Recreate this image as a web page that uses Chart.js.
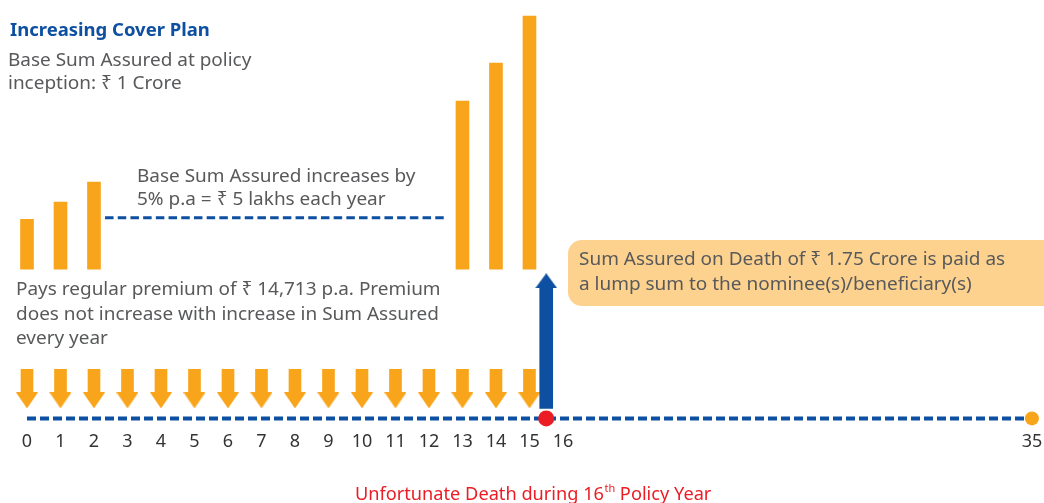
<!DOCTYPE html>
<html>
<head>
<meta charset="utf-8">
<script src="https://cdn.jsdelivr.net/npm/chart.js@4.4.1/dist/chart.umd.min.js"></script>
<style>
  html,body{margin:0;padding:0;background:#fff}
  #wrap{width:1044px;height:503px;position:relative}
</style>
</head>
<body>
<div id="wrap"><canvas id="c" width="1044" height="503"></canvas></div>
<script>
/* ====================== DATA ====================== */
const axisYears    = [0,1,2,3,4,5,6,7,8,9,10,11,12,13,14,15,16];
const lastYear     = 35;          // end of policy term, shown after an axis break
const lastYearAt   = 30;          // where the break puts it on the axis
const barYears     = [0,1,2,13,14,15];
const barHeights   = [50,67,87,168,206,253];   // illustrative sum assured bars
const premiumYears = [0,1,2,3,4,5,6,7,8,9,10,11,12,13,14,15];
const deathAt      = 15.5;        // during the 16th policy year

/* ====================== STYLE ===================== */
const FONT   = "'Noto Sans','DejaVu Sans',sans-serif";
const ORANGE = '#f8a51c';
const BLUE   = '#0d4fa0';
const RED    = '#ec1c24';
const GRAY   = '#58595b';
const BOX    = '#fdd28e';
const Y_TOP  = 418;               // y units ~ px above the time line
const BAR_BASE = 149;
const ARROW = {shaftTop:49, headBase:26, tip:10};
const CLAIM = {bottom:10, headBase:130, tip:145};

function head(w,h,color,up){
  const c=document.createElement('canvas'); c.width=w; c.height=h;
  const g=c.getContext('2d'); g.fillStyle=color; g.beginPath();
  if(up){ g.moveTo(w/2,0); g.lineTo(w,h); g.lineTo(0,h); }
  else  { g.moveTo(0,0); g.lineTo(w,0); g.lineTo(w/2,h); }
  g.closePath(); g.fill(); return c;
}
const downHead = head(22,16,ORANGE,false);
const upHead   = head(22,15,BLUE,true);

/* ==================== DATASETS ==================== */
const dsDots = {
  type:'line', order:0, showLine:false, clip:false,
  data:[{x:deathAt,y:0},{x:lastYearAt,y:0}],
  pointRadius:[8,7], pointBackgroundColor:[RED,ORANGE], pointBorderWidth:0, pointHoverRadius:[8,7]
};
const dsClaimShaft = {
  type:'bar', order:1, grouped:false, barThickness:13, backgroundColor:BLUE,
  data:[{x:deathAt,y:[CLAIM.bottom,CLAIM.headBase]}]
};
const dsClaimHead = {
  type:'line', order:1, showLine:false, clip:false,
  data:[{x:deathAt,y:(CLAIM.headBase+CLAIM.tip)/2}],
  pointStyle:upHead, pointRadius:8
};
const dsPremShaft = {
  type:'bar', order:2, grouped:false, barThickness:12, backgroundColor:ORANGE,
  data:premiumYears.map(y=>({x:y,y:[ARROW.headBase,ARROW.shaftTop]}))
};
const dsPremHead = {
  type:'line', order:2, showLine:false, clip:false,
  data:premiumYears.map(y=>({x:y,y:(ARROW.headBase+ARROW.tip)/2})),
  pointStyle:downHead, pointRadius:8
};
const dsBars = {
  type:'bar', order:3, grouped:false, barThickness:13, backgroundColor:ORANGE, borderSkipped:false,
  data:barYears.map((y,i)=>({x:y,y:[BAR_BASE,BAR_BASE+barHeights[i]]}))
};
const dsTimeline = {
  type:'line', order:4, clip:false, borderColor:BLUE, borderWidth:4, borderDash:[9,4],
  borderCapStyle:'butt', pointRadius:0,
  data:[{x:axisYears[0],y:0},{x:lastYearAt,y:0}]
};
const upperLevel = BAR_BASE + barHeights[0] + 1.5;
const dsIncrease = {
  type:'line', order:4, clip:false, borderColor:BLUE, borderWidth:3, borderDash:[8.5,4.2],
  borderCapStyle:'butt', pointRadius:0,
  data:[{x:barYears[2]+0.33,y:upperLevel},{x:barYears[3]-0.52,y:upperLevel}]
};

/* ===================== TEXT ======================= */
function fit(ctx,text,weight,w){
  ctx.font=`${weight} 100px ${FONT}`;
  return 100*w/ctx.measureText(text).width;
}
const notes = {
  id:'notes',
  afterDraw(chart){
    const ctx=chart.ctx; ctx.save();
    ctx.textBaseline='alphabetic'; ctx.textAlign='left';

    // callout box
    ctx.fillStyle=BOX; ctx.beginPath(); ctx.roundRect(568,240,520,66,14); ctx.fill();

    const ts=fit(ctx,'Increasing Cover Plan','700',200);
    ctx.font=`700 ${ts}px ${FONT}`; ctx.fillStyle=BLUE;
    ctx.fillText('Increasing Cover Plan',10,36);

    const bs=fit(ctx,'does not increase with increase in Sum Assured','400',423);
    ctx.font=`400 ${bs}px ${FONT}`; ctx.fillStyle=GRAY;
    [
      ['Base Sum Assured at policy',8,66],
      ['inception: \u20B9 1 Crore',8,89],
      ['Base Sum Assured increases by',137,182],
      ['5% p.a = \u20B9 5 lakhs each year',137,205],
      ['Pays regular premium of \u20B9 14,713 p.a. Premium',16,295],
      ['does not increase with increase in Sum Assured',16,319.5],
      ['every year',16,344],
      ['Sum Assured on Death of \u20B9 1.75 Crore is paid as',579,265],
      ['a lump sum to the nominee(s)/beneficiary(s)',579,290]
    ].forEach(([t,x,y])=>ctx.fillText(t,x,y));

    // red caption with superscript
    const a='Unfortunate Death during 16', b='th', c=' Policy Year';
    const rs=fit(ctx,a+'t'+c,'400',352);
    ctx.fillStyle=RED;
    let x=355;
    ctx.font=`400 ${rs}px ${FONT}`; ctx.fillText(a,x,500); x+=ctx.measureText(a).width;
    ctx.font=`400 ${rs*0.6}px ${FONT}`; ctx.fillText(b,x+0.5,492); x+=ctx.measureText(b).width+0.5;
    ctx.font=`400 ${rs}px ${FONT}`; ctx.fillText(c,x,500);
    ctx.restore();
  }
};

/* ===================== CHART ====================== */
new Chart(document.getElementById('c'),{
  type:'bar',
  data:{datasets:[dsDots,dsClaimShaft,dsClaimHead,dsPremShaft,dsPremHead,dsBars,dsTimeline,dsIncrease]},
  options:{
    responsive:false, animation:false, devicePixelRatio:1,
    layout:{autoPadding:false, padding:{left:0,right:0,top:0,bottom:37}},
    plugins:{legend:{display:false},tooltip:{enabled:false}},
    scales:{
      x:{
        type:'linear', min:-0.806, max:30.36, offset:false,
        grid:{display:false,drawTicks:false}, border:{display:false},
        afterBuildTicks:s=>{ s.ticks=[...axisYears,lastYearAt].map(v=>({value:v})); },
        afterFit:s=>{ s.paddingLeft=0; s.paddingRight=0; },
        ticks:{
          autoSkip:false, maxRotation:0, padding:13, color:'#333',
          font:{family:FONT,size:18},
          callback:v=> v===lastYearAt ? String(lastYear) : String(v)
        }
      },
      y:{display:false, min:0, max:Y_TOP}
    }
  },
  plugins:[notes]
});
</script>
</body>
</html>
